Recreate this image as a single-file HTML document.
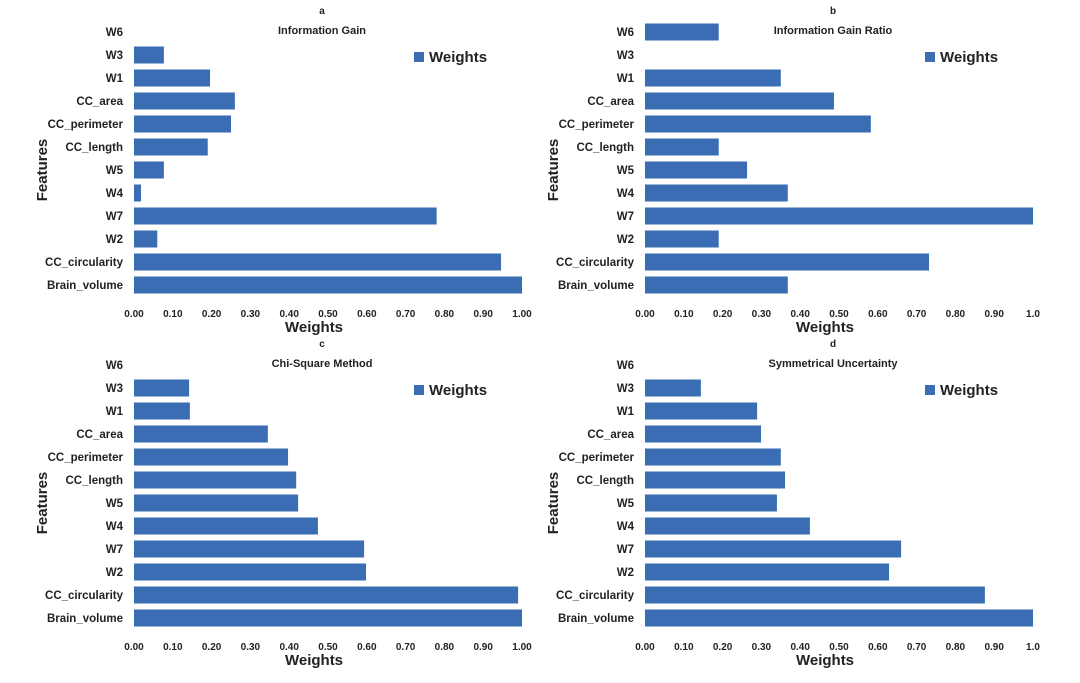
<!DOCTYPE html>
<html><head><meta charset="utf-8"><style>
body{margin:0;background:#fff;}
svg{display:block;font-family:"Liberation Sans",Arial,sans-serif;}
</style></head><body>
<svg id="c" width="1080" height="683"></svg>
<script>
const categories=["W6","W3","W1","CC_area","CC_perimeter","CC_length","W5","W4","W7","W2","CC_circularity","Brain_volume"];
const valuesA=[0,0.077,0.196,0.26,0.25,0.19,0.077,0.018,0.78,0.06,0.946,1.0];
const valuesB=[0.19,0,0.35,0.487,0.582,0.19,0.263,0.368,1.0,0.19,0.732,0.368];
const valuesC=[0,0.142,0.144,0.345,0.397,0.418,0.423,0.474,0.593,0.598,0.99,1.0];
const valuesD=[0,0.144,0.289,0.299,0.35,0.361,0.34,0.425,0.66,0.629,0.876,1.0];
const ticksAC=["0.00","0.10","0.20","0.30","0.40","0.50","0.60","0.70","0.80","0.90","1.00"];
const ticksBD=["0.00","0.10","0.20","0.30","0.40","0.50","0.60","0.70","0.80","0.90","1.0"];
const titles=["Information Gain","Information Gain Ratio","Chi-Square Method","Symmetrical Uncertainty"];
const letters=["a","b","c","d"];
const NS="http://www.w3.org/2000/svg";
const svg=document.getElementById('c');
function mk(tag,attrs,parent,text){const e=document.createElementNS(NS,tag);for(const k in attrs)e.setAttribute(k,attrs[k]);if(text!==undefined)e.textContent=text;parent.appendChild(e);return e;}
const panels=[{ox:0,oy:0,v:valuesA,t:ticksAC},{ox:511,oy:0,v:valuesB,t:ticksBD},{ox:0,oy:333,v:valuesC,t:ticksAC},{ox:511,oy:333,v:valuesD,t:ticksBD}];
panels.forEach((p,pi)=>{
  const g=mk('g',{},svg);
  
  
  const x0=134+p.ox, W=388;
  const xs=v=>x0+v*W;
  const ys=i=>32+p.oy+i*23;
  categories.forEach((c,i)=>{
    const lab=mk('text',{x:123+p.ox,y:ys(i)+4,'text-anchor':'end','font-size':11.5,'font-weight':'bold',fill:'#222'},g,c);
    
    
    if(p.v[i]>0){
      const r=mk('rect',{x:x0,y:ys(i)-8.5,width:xs(p.v[i])-x0,height:17,fill:'#3a6db4'},g);
      
      
    }
  });
  p.t.forEach((t,i)=>{
    const tl=mk('text',{x:xs(i/10),y:317+p.oy,'text-anchor':'middle','font-size':10,'font-weight':'bold',fill:'#222'},g,t);
    
    
  });
  const xt=mk('text',{x:314+p.ox,y:332+p.oy,'text-anchor':'middle','font-size':15,'font-weight':'bold',fill:'#222'},g,'Weights');
  
  
  const yt=mk('text',{x:0,y:0,transform:`translate(${47+p.ox},${170+p.oy}) rotate(-90)`,'text-anchor':'middle','font-size':15,'font-weight':'bold',fill:'#222'},g,'Features');
  
  
  const lt=mk('text',{x:322+p.ox,y:14+p.oy,'text-anchor':'middle','font-size':10,'font-weight':'bold',fill:'#222'},g,letters[pi]);
  
  
  const ti=mk('text',{x:322+p.ox,y:34+p.oy,'text-anchor':'middle','font-size':11,'font-weight':'bold',fill:'#222'},g,titles[pi]);
  
  
  const ls=mk('rect',{x:414+p.ox,y:52+p.oy,width:10,height:10,fill:'#3a6db4'},g);
  
  
  const lx=mk('text',{x:429+p.ox,y:62+p.oy,'font-size':15,'font-weight':'bold',fill:'#222'},g,'Weights');
  
  
});
</script>
</body></html>
